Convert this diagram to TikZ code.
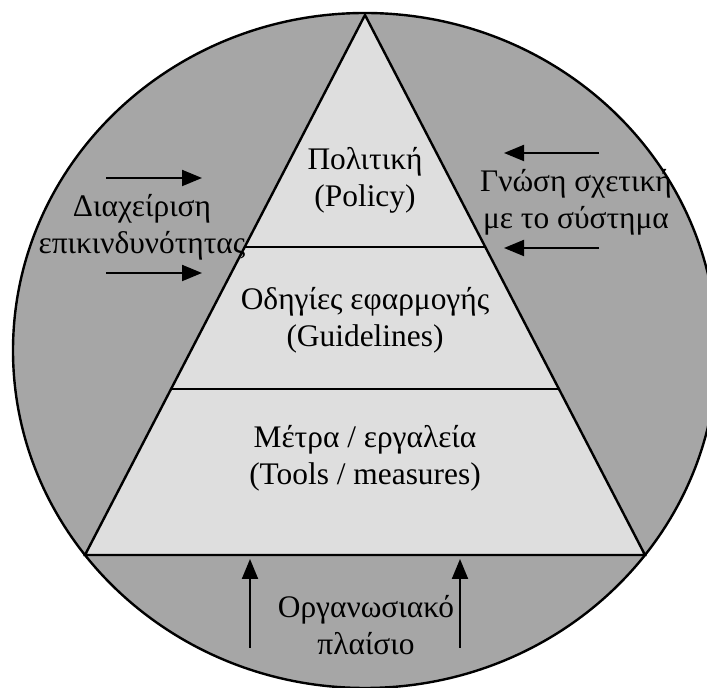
\documentclass[tikz,border=0pt]{standalone}
\usepackage{fontspec}
\setmainfont{Liberation Serif}
\usetikzlibrary{arrows.meta,calc}
\definecolor{outergray}{gray}{0.65}
\definecolor{innergray}{gray}{0.87}
\begin{document}
\begin{tikzpicture}[x=0.5pt,y=-0.5pt,
  labeltext/.style={font=\fontsize{15.7}{18.5}\selectfont, align=center, inner sep=0pt},
  flow/.style={line width=1pt, -{Triangle[length=10pt,width=8pt]}},
  edgeline/.style={line width=1.2pt}]
\useasboundingbox (0,0) rectangle (707,688);
\clip (0,0) rectangle (707,688);

% outer disc
\draw[fill=outergray, line width=1.2pt] (365,350.5) ellipse [x radius=176pt, y radius=168.75pt];

% pyramid
\coordinate (apex) at (365,15);
\coordinate (bl) at (85,555);
\coordinate (br) at (645,555);
\filldraw[fill=innergray, edgeline, line join=miter] (apex) -- (br) -- (bl) -- cycle;

% level dividers
\coordinate (d1l) at ($(apex)!0.4296!(bl)$);
\coordinate (d1r) at ($(apex)!0.4296!(br)$);
\coordinate (d2l) at ($(apex)!0.6926!(bl)$);
\coordinate (d2r) at ($(apex)!0.6926!(br)$);
\draw[edgeline] (d1l) -- (d1r);
\draw[edgeline] (d2l) -- (d2r);

% pyramid levels
\node[labeltext] (policy) at (365,180) {Πολιτική\\(Policy)};
\node[labeltext] (guide) at (365,320) {Οδηγίες εφαρμογής\\(Guidelines)};
\node[labeltext] (tools) at (365,458) {Μέτρα / εργαλεία\\(Tools / measures)};

% influences
\node[labeltext] (risk) at (142,227) {Διαχείριση\\επικινδυνότητας};
\node[labeltext] (know) at (576,202) {Γνώση σχετική\\με το σύστημα};
\node[labeltext] (org) at (366,625) {Οργανωσιακό\\πλαίσιο};

% arrows from the left
\coordinate (la1) at (106,178);
\coordinate (lb1) at (202,178);
\coordinate (la2) at (106,273);
\coordinate (lb2) at (202,273);
\draw[flow] (la1) -- (lb1);
\draw[flow] (la2) -- (lb2);

% arrows from the right
\coordinate (ra1) at (599,153);
\coordinate (rb1) at (504,153);
\coordinate (ra2) at (599,248);
\coordinate (rb2) at (504,248);
\draw[flow] (ra1) -- (rb1);
\draw[flow] (ra2) -- (rb2);

% arrows from below
\coordinate (ba1) at (250,648);
\coordinate (bb1) at (250,559);
\coordinate (ba2) at (460,648);
\coordinate (bb2) at (460,559);
\draw[flow] (ba1) -- (bb1);
\draw[flow] (ba2) -- (bb2);
\end{tikzpicture}
\end{document}
